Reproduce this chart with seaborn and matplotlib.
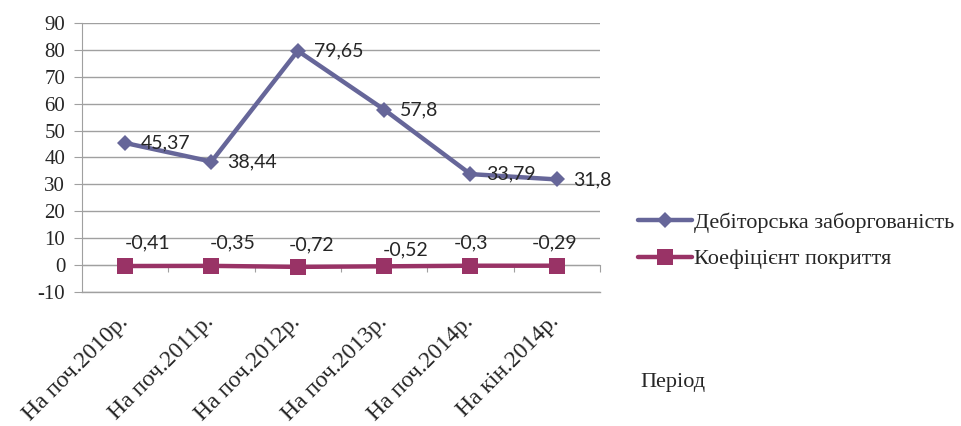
import numpy as np
import pandas as pd
import matplotlib
matplotlib.use('Agg')
import matplotlib.pyplot as plt
import matplotlib.transforms as mtransforms
import seaborn as sns

# data
periods = ['На поч.2010р.', 'На поч.2011р.', 'На поч.2012р.', 'На поч.2013р.', 'На поч.2014р.', 'На кін.2014р.']
debt = [45.37, 38.44, 79.65, 57.8, 33.79, 31.8]
coef = [-0.41, -0.35, -0.72, -0.52, -0.3, -0.29]
series_names = ['Дебіторська заборгованість', 'Коефіцієнт покриття']
yticks = list(range(-10, 100, 10))

# placement of the value labels of the second series (pixels)
coef_dx = [22, 21, 14, 21, 1, -2]
coef_dy = [23, 23, 22, 16, 23, 23]

pos = np.arange(len(periods))
df = pd.DataFrame({
    'x': np.concatenate([pos, pos]),
    'value': debt + coef,
    'series': [series_names[0]] * len(debt) + [series_names[1]] * len(coef),
})

sns.set_style('white')
plt.rcParams['font.family'] = 'serif'
plt.rcParams['font.serif'] = ['Liberation Serif', 'DejaVu Serif']
plt.rcParams['axes.unicode_minus'] = False

fig = plt.figure(figsize=(9.61, 4.26), dpi=100)
ax = fig.add_axes([0.0853, 0.315, 0.5390, 0.631])

colors = {series_names[0]: '#666699', series_names[1]: '#993366'}
sns.lineplot(data=df, x='x', y='value', hue='series', style='series',
             palette=colors, markers={series_names[0]: 'D', series_names[1]: 's'},
             dashes=False, linewidth=3.2, markersize=9, markeredgewidth=0, ax=ax)
for line in ax.get_lines():
    if line.get_marker() == 's':
        line.set_markersize(11.5)
    elif line.get_marker() == 'D':
        line.set_markersize(8.5)

handles, labels = ax.get_legend_handles_labels()
ax.get_legend().remove()

ax.set_xlim(-0.5, len(periods) - 0.5)
ax.set_ylim(-10, 90)
ax.set_yticks(yticks)
ax.set_xticks(pos)
ax.set_xticklabels(periods, rotation=45, ha='right', rotation_mode='anchor')
ax.set_xlabel('')
ax.set_ylabel('')
ax.tick_params(axis='y', labelsize=15, length=6, color='#a0a0a0', direction='out', pad=6, left=True)
ax.tick_params(axis='x', labelsize=17, length=0, pad=14)
shift = mtransforms.ScaledTranslation(-8 / 100, 0, fig.dpi_scale_trans)
for t in ax.get_xticklabels():
    t.set_transform(t.get_transform() + shift)
ax.grid(axis='y', color='#a0a0a0', lw=1)
for s in ['top', 'right']:
    ax.spines[s].set_visible(False)
ax.spines['left'].set_color('#a0a0a0')
ax.spines['bottom'].set_color('#a0a0a0')
ax.spines['bottom'].set_linewidth(1)

# category axis line at zero
sec = ax.secondary_xaxis(0, transform=ax.transData)
sec.set_xticks(pos + 0.5)
sec.set_xticklabels([])
sec.tick_params(axis='x', length=5, color='#a0a0a0', direction='out')
sec.spines['bottom'].set_color('#a0a0a0')

lab_font = dict(family=['Lato', 'DejaVu Sans'], fontsize=14)
for i, v in enumerate(debt):
    ax.annotate(f'{v:g}'.replace('.', ','), (pos[i], v), xytext=(16, 0),
                textcoords='offset pixels', ha='left', va='center', **lab_font)
for i, v in enumerate(coef):
    ax.annotate(f'{v:g}'.replace('.', ','), (pos[i], v), xytext=(coef_dx[i], coef_dy[i]),
                textcoords='offset pixels', ha='center', va='center', **lab_font)

fig.legend(handles, labels, loc='center left', bbox_to_anchor=(0.655, 1 - 241 / 426),
           frameon=False, fontsize=16, handlelength=2.4, handletextpad=0.1,
           labelspacing=0.7, borderaxespad=0)
fig.text(0.666, 1 - 382 / 426, 'Період', fontsize=16, va='center', ha='left')

fig.savefig('out.png', dpi=100)
